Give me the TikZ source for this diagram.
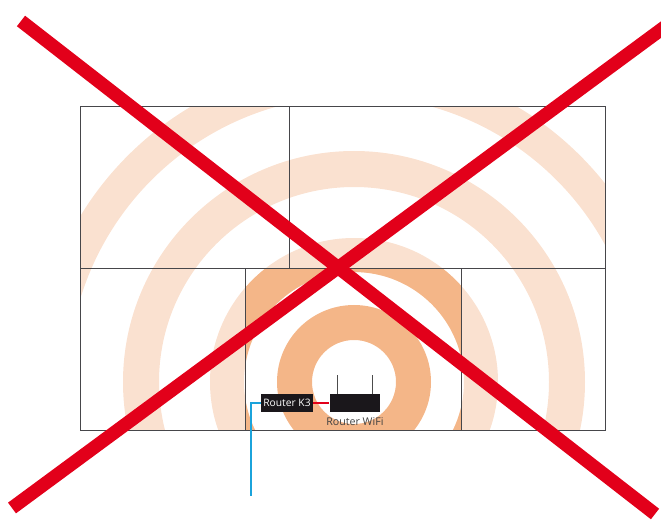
\documentclass[tikz,border=0pt]{standalone}
\usepackage{fontspec}
\setmainfont{Open Sans}
\usetikzlibrary{positioning,calc}
\definecolor{cRingL}{RGB}{250,225,208}
\definecolor{cRingD}{RGB}{244,182,136}
\definecolor{cCross}{RGB}{226,0,26}
\definecolor{cCable}{RGB}{27,163,219}
\definecolor{cWall}{RGB}{70,70,74}
\definecolor{cBox}{RGB}{26,23,27}

\begin{document}
\begin{tikzpicture}[
  x=0.75pt, y=-0.75pt,
  font=\fontsize{7.7pt}{9pt}\selectfont,
  wall/.style   = {draw=cWall, line width=0.75pt},
  ring/.style   = {even odd rule},
  rbox/.style   = {fill=cBox, text=white, inner sep=0pt, minimum height=13.5pt},
  lbl/.style    = {text=black!75, inner sep=0pt, font=\fontsize{8pt}{9pt}\selectfont},
  cross/.style  = {draw=cCross, line width=10pt},
  cable/.style  = {draw=cCable, line width=1.7pt},
  link/.style   = {draw=cCross, line width=1.5pt},
  aerial/.style = {draw=black!70, line width=1pt}
]
\useasboundingbox (0,0) rectangle (661,520);

% ------------------------------------------------------------------ rings --
\coordinate (ap) at (354,382);
\begin{scope}
  \clip (80,107) rectangle (605,431);
  \fill[cRingL, ring] (ap) circle[radius=320] (ap) circle[radius=286];
  \fill[cRingL, ring] (ap) circle[radius=231] (ap) circle[radius=195];
  \fill[cRingL, ring] (ap) circle[radius=144] (ap) circle[radius=110];
\end{scope}
\begin{scope}
  \clip (245,269) rectangle (461,431);
  \fill[cRingD, ring] (ap) circle[radius=144] (ap) circle[radius=110];
  \fill[cRingD, ring] (ap) circle[radius=77] (ap) circle[radius=42];
\end{scope}

% ------------------------------------------------------------------ rooms --
\draw[wall] (80,107) rectangle (605,431);
\draw[wall] (80,269) -- (605,269);
\draw[wall] (289,107) -- (289,269);
\draw[wall] (245,269) -- (245,431);
\draw[wall] (461,269) -- (461,431);

% ---------------------------------------------------------------- routers --
\node[rbox, minimum width=39pt] (k3) at (287,403) {Router K3};
\node[rbox, minimum width=38pt, right=12pt of k3] (wifi) {};
\node[lbl, below=3.6pt of wifi] (wifitxt) {Router WiFi};

\draw[link] (k3) -- (wifi);
\draw[aerial] ([xshift=-13.2pt]wifi.north) -- ++(0,-19);
\draw[aerial] ([xshift=13.2pt]wifi.north) -- ++(0,-19);

\coordinate (cableend) at (251,496);
\draw[cable] (k3.west) -| (cableend);

% ------------------------------------------------------------------ cross --
\draw[cross] (21,21) -- (655,514);
\draw[cross] (12,508) -- (670,23);

\end{tikzpicture}
\end{document}
